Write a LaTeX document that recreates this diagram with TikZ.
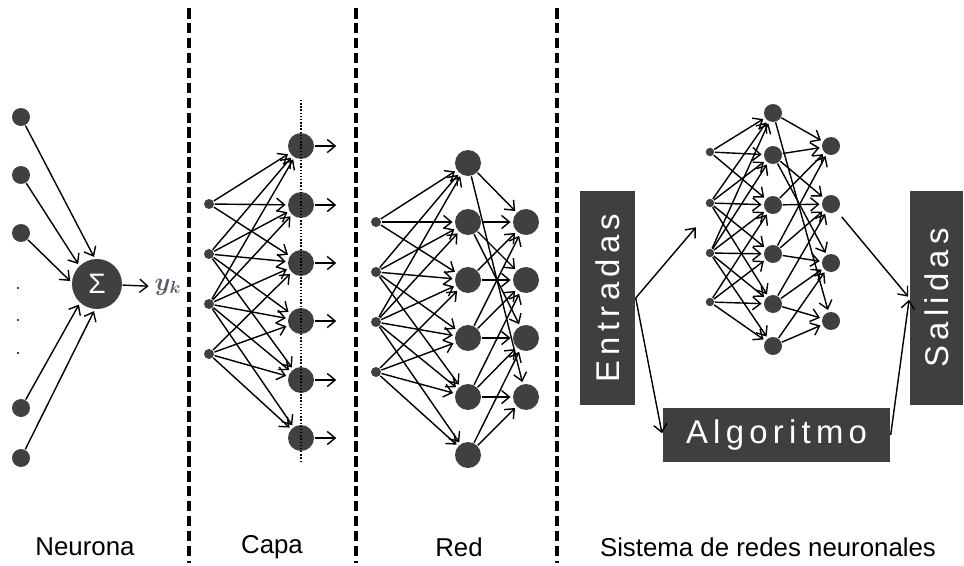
\documentclass[tikz,border=0pt]{standalone}
\usepackage{fontspec}
\setmainfont{Liberation Sans}
\newfontfamily\boxfont[LetterSpace=16]{Liberation Sans}
\usepackage{amsmath}
\usetikzlibrary{arrows.meta,positioning}
\definecolor{unitgray}{HTML}{404040}
\definecolor{boxgray}{HTML}{3F3F3F}
\definecolor{ykcolor}{HTML}{56606B}

\begin{document}
\begin{tikzpicture}[x=0.02cm,y=-0.02cm,->,>={Straight Barb[length=4.5pt,width=7.5pt]},shorten >=1pt,line width=0.8pt]
  \tikzstyle{unit}=[circle,fill=unitgray,draw=none,inner sep=0pt]
  \tikzstyle{big unit}=[unit,minimum size=0.52cm]
  \tikzstyle{small unit}=[unit,minimum size=0.2cm]
  \tikzstyle{mini unit}=[unit,minimum size=0.36cm]
  \tikzstyle{tiny unit}=[unit,minimum size=0.17cm]
  \tikzstyle{neuron in}=[unit,minimum size=0.36cm]
  \tikzstyle{sum}=[unit,minimum size=1cm,text=white,font=\fontsize{16}{16}\selectfont]
  \tikzstyle{block}=[fill=boxgray,text=white,inner sep=0pt,font=\boxfont\fontsize{18.7}{20}\selectfont]
  \tikzstyle{caption}=[font=\fontsize{14.7}{17}\selectfont]
  \tikzstyle{separator}=[-,line width=2pt,dash pattern=on 6pt off 2.5pt]
\useasboundingbox (0,0) rectangle (964,565);
\foreach \x in {189,356,557}
  \draw[separator] (\x,8) -- (\x,565);

% Neurona
\foreach \k/\y in {1/117,2/175,3/233,4/408,5/458}
  \node[neuron in] (n\k) at (21,\y) {};
\foreach \y in {288,320,353}
  \fill[-] (18,\y) circle (0.6pt);
\node[sum] (sum) at (97,284) {Σ};
\node[text=ykcolor,inner sep=2pt,font=\fontsize{14}{14}\selectfont] (yk) at (168,287) {$\boldsymbol{y_k}$};
\foreach \k/\a in {1/95,2/134,3/176,4/228,5/265}
  \draw (n\k) -- (sum.\a);
\draw (sum) -- (yk);

% Capa
\foreach \k/\y in {1/204,2/254,3/304,4/354}
  \node[small unit] (c-i\k) at (209,\y) {};
\foreach \k/\y in {1/146,2/205,3/263,4/321,5/380,6/438} {
  \node[big unit] (c-h\k) at (301,\y) {};
  \coordinate (c-o\k) at (338,\y);
  \draw (c-h\k) -- (c-o\k);
}
\foreach \i/\targets in {1/{1,2,3},2/{1,2,3,4,5},3/{1,2,3,4,5,6},4/{3,4,5,6}}
  \foreach \j in \targets
    \draw (c-i\i) -- (c-h\j);
\draw[-,densely dotted,line width=0.8pt] (301,100) -- (301,465);

% Red
\foreach \k/\y in {1/222,2/272,3/322,4/372}
  \node[small unit] (r-i\k) at (376,\y) {};
\foreach \k/\y in {1/163,2/222,3/280,4/338,5/397,6/455}
  \node[big unit] (r-h\k) at (468,\y) {};
\foreach \k/\y in {1/222,2/280,3/338,4/397}
  \node[big unit] (r-o\k) at (526,\y) {};
\foreach \i/\targets in {1/{1,2,3},2/{1,2,3,4,5},3/{1,2,3,4,5,6},4/{3,4,5,6}}
  \foreach \j in \targets
    \draw (r-i\i) -- (r-h\j);
\foreach \i/\targets in {1/{1,4},2/{1,2,3},3/{1,2},4/{1,2,3},5/{2,3,4},6/{3,4}}
  \foreach \j in \targets
    \draw (r-h\i) -- (r-o\j);

% Sistema de redes neuronales
\foreach \k/\y in {1/152,2/203,3/253,4/302}
  \node[tiny unit] (s-i\k) at (710,\y) {};
\foreach \k/\y in {1/113,2/155,3/205,4/254,5/304,6/346}
  \node[mini unit] (s-h\k) at (773,\y) {};
\foreach \k/\y in {1/146,2/204,3/263,4/321}
  \node[mini unit] (s-o\k) at (831,\y) {};
\foreach \i/\targets in {1/{1,2,3},2/{1,2,3,4,5},3/{1,2,3,4,5,6},4/{3,4,5,6}}
  \foreach \j in \targets
    \draw (s-i\i) -- (s-h\j);
\foreach \i/\targets in {1/{1,4},2/{1,2,3},3/{1,2},4/{1,2,3},5/{2,3,4},6/{3,4}}
  \foreach \j in \targets
    \draw (s-h\i) -- (s-o\j);

\node[block,rotate=90,minimum width=4.28cm,minimum height=1.1cm] (entradas) at (607.5,298) {Entradas};
\node[block,rotate=90,minimum width=4.28cm,minimum height=1.06cm] (salidas) at (936.5,298) {Salidas};
\node[block,minimum width=4.54cm,minimum height=1.08cm] (algoritmo) at (776.5,435) {Algoritmo};
\coordinate (s-in) at (697,226);
\draw (entradas.south) -- (s-in);
\draw (entradas.south) -- (algoritmo.west);
\draw (algoritmo.east) -- (salidas.north);
\draw[shorten <=4pt] (s-o2) -- (salidas.north);

% captions
\node[caption] (neurona) at (85,547) {Neurona};
\node[caption] (capa) at (272,547) {Capa};
\node[caption] (red) at (459,547) {Red};
\node[caption] (sistema) at (768,547) {Sistema de redes neuronales};
\end{tikzpicture}
\end{document}
